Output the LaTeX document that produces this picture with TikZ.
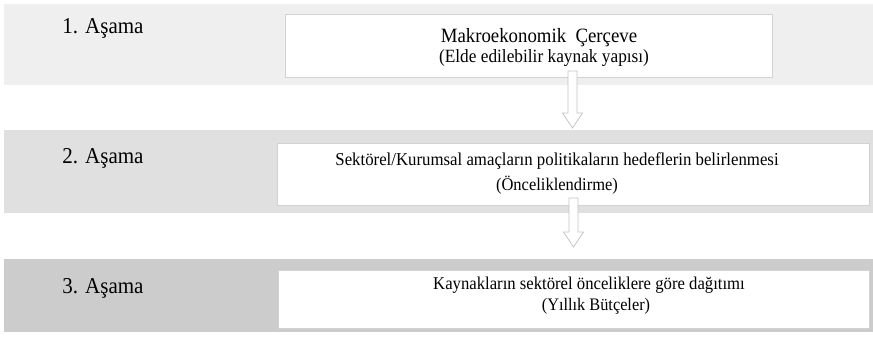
\documentclass[tikz,border=0pt]{standalone}
\usepackage{fontspec}
\usepackage{graphicx}
\setmainfont{Liberation Serif}
\usetikzlibrary{calc}
\definecolor{bandA}{HTML}{EFEFEF}
\definecolor{bandB}{HTML}{E0E0E0}
\definecolor{bandC}{HTML}{CCCCCC}
\definecolor{boxline}{HTML}{D2D2D2}
\definecolor{arrowline}{HTML}{C4C4C4}
% slightly tall lettering
\newcommand\talltext[1]{\scalebox{1}[1.08]{#1}}
\tikzset{
  band/.style={fill=#1, draw=none, anchor=north west, inner sep=0pt, outer sep=0pt},
  stagebox/.style={fill=white, draw=boxline, line width=0.8pt, anchor=north west, inner sep=0pt, outer sep=0pt},
  txt/.style={font=\fontsize{#1}{#1}\selectfont, inner sep=0pt, anchor=base},
  blockarrow/.style={fill=white, draw=arrowline, line width=0.8pt, line join=miter}
}
\begin{document}
\begin{tikzpicture}[x=1pt,y=-1pt]
  \useasboundingbox (0,0) rectangle (873,343);
  \fill[white] (0,0) rectangle (873,343);

  % stage bands
  \node[band=bandA, minimum width=869pt, minimum height=81pt] (band1) at (4,4) {};
  \node[band=bandB, minimum width=869pt, minimum height=83pt] (band2) at (4,130) {};
  \node[band=bandC, minimum width=869pt, minimum height=73pt] (band3) at (4,259) {};

  % content boxes
  \node[stagebox, minimum width=487pt, minimum height=63pt] (box1) at (285,14) {};
  \node[stagebox, minimum width=592pt, minimum height=62pt] (box2) at (277,143) {};
  \node[stagebox, minimum width=591pt, minimum height=58pt] (box3) at (278,270) {};

  % stage labels
  \node[txt=21] (lab1) at (103,33) {\talltext{1. Aşama}};
  \node[txt=21] (lab2) at (103,163) {\talltext{2. Aşama}};
  \node[txt=21] (lab3) at (103,293) {\talltext{3. Aşama}};

  % box texts
  \node[txt=18.8] (t1a) at (539,42) {\talltext{Makroekonomik\ \ Çerçeve}};
  \node[txt=17.3] (t1b) at (544,62) {\talltext{(Elde edilebilir kaynak yapısı)}};
  \node[txt=16.8] (t2a) at (557,165) {\talltext{Sektörel/Kurumsal amaçların politikaların hedeflerin belirlenmesi}};
  \node[txt=16.5] (t2b) at (557,190) {\talltext{(Önceliklendirme)}};
  \node[txt=16.7] (t3a) at (589,289) {\talltext{Kaynakların sektörel önceliklere göre dağıtımı}};
  \node[txt=16.3] (t3b) at (596,310) {\talltext{(Yıllık Bütçeler)}};

  % block arrows between stages
  \coordinate (a1top) at (572.5,71);
  \coordinate (a1tip) at (572.5,128);
  \coordinate (a2top) at (573.5,198);
  \coordinate (a2tip) at (573.5,247);
  \foreach \s/\e in {a1top/a1tip, a2top/a2tip}{
    \draw[blockarrow] let \p1=(\s), \p2=(\e) in
      (\x1-4.5pt,\y1) -- (\x1-4.5pt,\y2+15pt) -- (\x1-10pt,\y2+15pt) -- (\x2,\y2)
      -- (\x1+10pt,\y2+15pt) -- (\x1+4.5pt,\y2+15pt) -- (\x1+4.5pt,\y1) -- cycle;
  }
\end{tikzpicture}
\end{document}
